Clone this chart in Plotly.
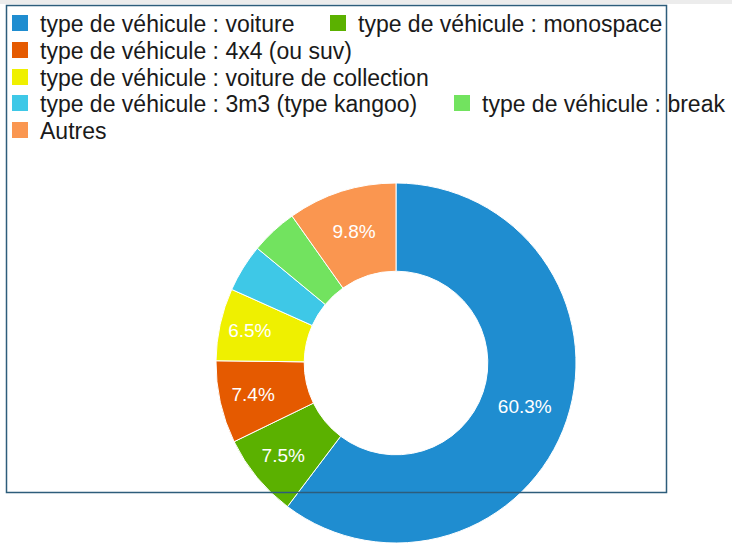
import plotly.graph_objects as go

labels = [
    "type de véhicule : voiture",
    "type de véhicule : monospace",
    "type de véhicule : 4x4 (ou suv)",
    "type de véhicule : voiture de collection",
    "type de véhicule : 3m3 (type kangoo)",
    "type de véhicule : break",
    "Autres",
]
values = [60.3, 7.5, 7.4, 6.5, 4.3, 4.2, 9.8]
colors = ["#1f8dd0", "#5bb100", "#e55a00", "#eff000", "#3ec8e7", "#72e35f", "#fa9650"]

texts = [f"{v:.1f}%" if v >= 5 else "" for v in values]

W, H = 732, 543
cx, cy, r = 396, 363, 180
FONT = "Liberation Sans, Arial, Helvetica, sans-serif"

fig = go.Figure()
fig.add_trace(go.Pie(
    labels=labels,
    values=values,
    text=texts,
    textinfo="text",
    textposition="inside",
    insidetextorientation="horizontal",
    textfont=dict(family=FONT, size=19, color="white"),
    marker=dict(colors=colors, line=dict(color="white", width=1)),
    hole=0.51,
    sort=False,
    direction="clockwise",
    rotation=0,
    showlegend=False,
    hoverinfo="label+percent",
    domain=dict(x=[(cx - r) / W, (cx + r) / W], y=[max(0.0, 1 - (cy + r) / H), 1 - (cy - r) / H]),
))

# legend entry placement (pixel offsets of each entry, wrapping as in the reference)
entry_x = [0, 318, 0, 0, 0, 442, 0]
entry_y = [23, 23, 50, 77, 103, 103, 130]

legend_layouts = {}
for i, name in enumerate(labels):
    lname = "legend" if i == 0 else f"legend{i + 1}"
    fig.add_trace(go.Scatter(
        x=[None], y=[None], mode="markers", name=name,
        marker=dict(symbol="square", size=16, color=colors[i]),
        legend=lname, hoverinfo="skip",
    ))
    legend_layouts[lname] = dict(
        orientation="h",
        x=entry_x[i] / W, y=1 - entry_y[i] / H, xanchor="left", yanchor="middle",
        font=dict(family=FONT, size=23, color="#1a1a1a"),
        bgcolor="rgba(0,0,0,0)",
        itemsizing="trace",
        itemclick=False, itemdoubleclick=False,
    )

fig.update_layout(
    width=W, height=H,
    margin=dict(l=0, r=0, t=0, b=0),
    paper_bgcolor="white",
    plot_bgcolor="rgba(0,0,0,0)",
    showlegend=True,
    xaxis=dict(visible=False),
    yaxis=dict(visible=False),
    shapes=[
        dict(type="rect", xref="paper", yref="paper", x0=0, x1=1, y0=1 - 4 / H, y1=1,
             fillcolor="#ececec", line=dict(width=0), layer="above"),
        dict(type="rect", xref="paper", yref="paper",
             x0=6.5 / W, x1=666.5 / W, y0=1 - 492.5 / H, y1=1 - 5.5 / H,
             line=dict(color="#2d5d7b", width=1.5), fillcolor="rgba(0,0,0,0)", layer="above"),
    ],
    **legend_layouts,
)

fig.write_html("out.html", config={"displayModeBar": False},
               post_script="document.body.style.margin='0';")
